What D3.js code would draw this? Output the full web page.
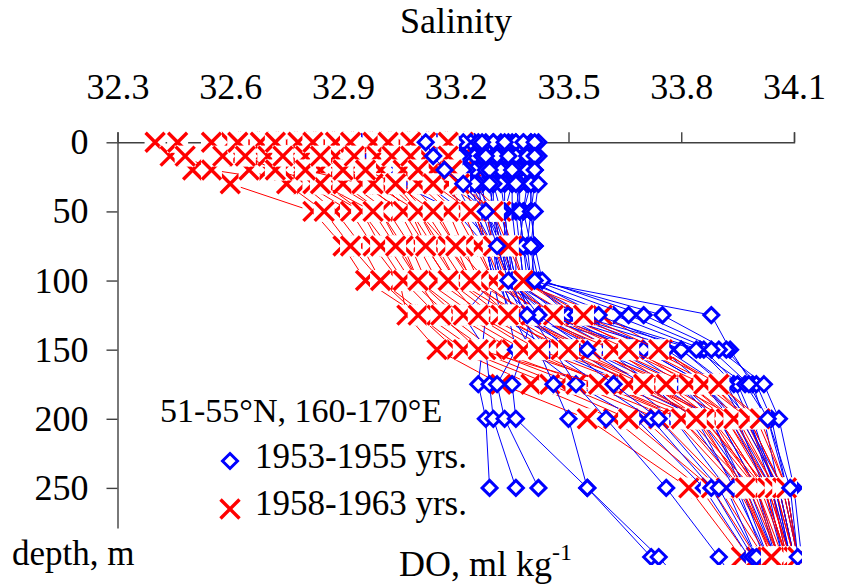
<!DOCTYPE html>
<html>
<head>
<meta charset="utf-8">
<script src="https://cdn.jsdelivr.net/npm/d3@7"></script>
</head>
<body style="margin:0; background:#fff">
<div id="chart"></div>
<script>
// standard depths of the casts, m
var depths = [0, 10, 20, 30, 50, 75, 100, 125, 150, 175, 200, 250, 300, 325];
var salinityTicks = [32.3, 32.6, 32.9, 33.2, 33.5, 33.8, 34.1];
var depthTicks = [0, 50, 100, 150, 200, 250];

// 1953-1955 stations, salinity at each standard depth
var series1953 = [
  [33.40,33.40,33.40,33.40,33.38,33.37,33.38,33.55,33.85,33.94,33.98,34.04,34.08,34.10],
  [33.42,33.42,33.41,33.40,33.40,33.39,33.40,33.88,33.93,33.99,34.02,34.06,34.10,34.12],
  [33.35,33.36,33.36,33.35,33.33,33.33,33.35,33.40,33.70,33.86,33.95,34.02,34.07,34.09],
  [33.30,33.30,33.31,33.30,33.30,33.32,33.34,33.45,33.62,33.80,33.90,34.00,34.05,34.08],
  [33.25,33.26,33.26,33.27,33.28,33.30,33.32,33.36,33.45,33.66,33.85,33.98,34.05,34.08],
  [33.22,33.22,33.23,33.24,33.26,33.28,33.30,33.28,33.27,33.26,33.28,33.29,null,33.36],
  [33.18,33.19,33.20,33.22,33.25,33.28,33.30,33.22,33.28,33.29,33.30,33.36,null,33.52],
  [33.30,33.30,33.30,33.30,33.29,33.30,33.32,33.34,33.36,33.31,33.33,33.42,null,33.66],
  [33.34,33.34,33.34,33.35,33.35,33.36,33.36,33.40,33.38,33.35,33.36,33.55,33.72,33.80],
  [33.10,33.12,33.15,33.20,33.28,33.33,33.35,33.42,33.60,33.72,33.82,33.95,34.02,34.05],
  [33.05,33.06,33.10,33.15,33.25,33.30,33.33,33.38,33.55,33.74,33.88,33.97,34.05,34.08],
  [32.95,32.98,33.02,33.12,33.22,33.30,33.32,33.36,33.52,33.66,33.78,33.92,34.00,34.04],
  [33.38,33.38,33.39,33.39,33.38,33.40,33.42,33.75,33.92,34.00,34.04,34.08,34.11,34.12],
  [33.36,33.36,33.37,33.37,33.36,33.37,33.38,33.62,33.86,33.95,33.99,34.05,34.09,34.11],
  [33.28,33.28,33.28,33.29,33.30,33.31,33.34,33.50,33.75,33.86,33.93,34.03,34.07,34.10],
  [33.32,33.33,33.33,33.33,33.33,33.34,33.36,33.48,33.66,33.80,33.88,33.96,34.03,34.07],
  [33.24,33.25,33.25,33.26,33.27,33.30,33.31,33.35,33.40,33.52,33.68,33.86,33.98,34.03],
  [32.78,32.85,32.95,33.05,33.20,33.28,33.31,33.40,33.58,33.78,33.90,34.00,34.06,34.09],
  [33.15,33.16,33.18,33.20,33.24,33.28,33.30,33.32,33.45,33.58,33.72,33.88,33.99,34.04],
  [33.40,33.40,33.41,33.41,33.40,33.41,33.40,33.50,33.80,33.91,33.96,34.06,34.10,34.12],
  [33.30,33.31,33.32,33.32,33.33,33.34,33.35,33.38,33.42,33.46,33.50,33.55,33.74,33.82],
  [33.26,33.27,33.28,33.30,33.32,33.34,33.36,33.40,33.46,33.52,33.60,33.76,33.90,33.96],
  [33.36,33.36,33.36,33.37,33.37,33.38,33.40,33.58,33.80,33.92,33.97,34.07,34.11,34.13],
  [33.22,33.22,33.23,33.24,33.28,33.32,33.34,33.44,33.70,33.86,33.94,34.04,34.09,34.11],
  [33.20,33.21,33.22,33.25,33.30,33.33,33.35,33.46,33.76,33.90,33.98,34.05,34.09,34.11],
  [33.33,33.34,33.35,33.36,33.37,33.38,33.39,33.52,33.84,33.97,34.03,34.08,34.11,34.12],
  [33.38,33.39,33.39,33.40,33.40,33.41,33.43,33.70,33.90,34.02,34.06,34.10,34.12,34.13],
  [33.27,33.28,33.29,33.29,33.30,33.32,33.35,33.42,33.55,33.70,33.84,33.94,34.03,34.08],
  [33.12,33.14,33.17,33.22,33.28,33.31,33.34,33.39,33.50,33.62,33.74,33.90,34.00,34.06],
  [33.41,33.41,33.41,33.42,33.41,33.40,33.41,33.66,33.88,33.98,34.03,34.09,34.11,34.12]
];

// 1958-1963 stations
var series1958 = [
  [32.40,32.44,32.50,32.60,32.82,32.90,32.96,33.10,33.20,33.40,33.62,33.85,33.98,34.04],
  [32.46,32.48,32.55,32.79,32.88,32.95,33.00,33.12,33.25,33.48,33.70,33.90,34.02,34.07],
  [32.60,32.62,32.70,32.80,32.92,32.98,33.05,33.07,33.15,33.32,33.55,33.82,33.96,34.03],
  [32.65,32.68,32.75,32.85,32.95,33.02,33.08,33.18,33.30,33.55,33.78,33.95,34.05,34.09],
  [32.70,32.72,32.78,32.88,33.00,33.05,33.10,33.20,33.35,33.62,33.85,34.00,34.07,34.10],
  [32.75,32.76,32.82,32.92,33.02,33.08,33.12,33.25,33.40,33.60,33.80,33.98,34.06,34.09],
  [32.80,32.82,32.88,32.96,33.05,33.10,33.15,33.28,33.45,33.70,33.90,34.02,34.08,34.11],
  [32.85,32.86,32.90,33.00,33.08,33.12,33.18,33.30,33.50,33.72,33.88,34.03,34.09,34.12],
  [32.90,32.92,32.95,33.02,33.10,33.15,33.20,33.35,33.55,33.78,33.95,34.05,34.10,34.12],
  [32.95,32.95,32.98,33.05,33.12,33.18,33.25,33.40,33.60,33.80,33.92,34.04,34.08,34.11],
  [33.00,33.00,33.02,33.08,33.15,33.20,33.28,33.45,33.65,33.84,33.96,34.06,34.10,34.12],
  [33.05,33.05,33.08,33.12,33.20,33.25,33.30,33.48,33.70,33.88,33.98,34.07,34.11,34.13],
  [33.10,33.10,33.12,33.15,33.25,33.28,33.32,33.42,33.58,33.72,33.85,33.96,34.05,34.09],
  [33.15,33.15,33.16,33.18,33.28,33.30,33.35,33.50,33.68,33.82,33.93,34.04,34.09,34.12],
  [33.20,33.20,33.20,33.22,33.30,33.32,33.36,33.59,33.75,33.88,33.97,34.06,34.10,34.12],
  [33.22,33.22,33.22,33.24,33.32,33.35,33.38,33.52,33.72,33.90,34.00,34.08,34.11,34.13],
  [32.55,32.58,32.65,32.75,32.85,32.92,33.00,33.10,33.22,33.45,33.66,33.88,34.00,34.05],
  [32.68,32.70,32.74,32.82,32.95,33.00,33.06,33.15,33.28,33.52,33.74,33.92,34.03,34.07],
  [32.78,32.80,32.84,32.90,33.00,33.06,33.10,33.22,33.38,33.60,33.82,33.99,34.06,34.10],
  [32.98,32.99,33.00,33.04,33.10,33.16,33.22,33.38,33.52,33.72,33.90,34.02,34.08,34.11],
  [33.12,33.12,33.14,33.18,33.22,33.26,33.30,33.44,33.62,33.76,33.88,34.00,34.06,34.10],
  [32.88,32.88,32.92,33.00,33.08,33.14,33.20,33.32,33.48,33.68,33.86,34.01,34.08,34.11],
  [32.62,32.64,32.72,32.84,32.98,33.04,33.10,33.16,33.26,33.58,33.80,33.96,34.04,34.08],
  [32.72,32.74,32.80,32.95,33.06,33.12,33.18,33.26,33.42,33.66,33.86,34.02,34.08,34.11],
  [32.82,32.84,32.90,32.98,33.10,33.18,33.24,33.36,33.56,33.76,33.92,34.03,34.09,34.12],
  [33.02,33.03,33.06,33.10,33.18,33.22,33.26,33.40,33.62,33.82,33.94,34.05,34.10,34.12],
  [33.08,33.08,33.10,33.14,33.24,33.30,33.34,33.46,33.66,33.86,33.98,34.07,34.11,34.13],
  [33.18,33.18,33.19,33.21,33.30,33.34,33.38,33.54,33.74,33.90,34.01,34.08,34.11,34.13],
  [32.92,32.93,32.96,33.04,33.14,33.20,33.24,33.34,33.50,33.70,33.84,33.97,34.04,34.08]
];

var legendTitle = "51-55°N, 160-170°E";
var seriesNames = ["1953-1955 yrs.", "1958-1963 yrs."];
var seriesColors = ["#0000ff", "#ff0000"];
var serif = "'Liberation Serif', 'Times New Roman', serif";

var width = 860, height = 588;

var svg = d3.select("#chart")
            .append("svg")
            .attr("width", width)
            .attr("height", height)
            .style("font-family", serif);

var x = d3.scaleLinear().domain([32.3, 34.1]).range([117.5, 794]);
var y = d3.scaleLinear().domain([0, 279]).range([142.3, 528]);

// axes
var xAxis = svg.append("g")
      .attr("transform", "translate(0," + y(0) + ")")
      .call(d3.axisTop(x).tickValues(salinityTicks).tickSize(10).tickPadding(33)
              .tickFormat(d3.format(".1f")));
var yAxis = svg.append("g")
      .attr("transform", "translate(" + x(32.3) + ",0)")
      .call(d3.axisLeft(y).tickValues(depthTicks).tickSize(11).tickSizeOuter(0).tickPadding(18));

[xAxis, yAxis].forEach(function(a){
  a.attr("font-size", 36);
  a.selectAll("text").style("font-family", serif).attr("fill", "#000");
  a.selectAll("path, line").attr("stroke", "#404040").attr("stroke-width", 1.4);
});

svg.append("text").attr("x", 456).attr("y", 33).attr("text-anchor", "middle")
   .attr("font-size", 36).style("font-family", serif).text("Salinity");

svg.append("defs").append("clipPath").attr("id", "plotClip")
   .append("rect").attr("x", 0).attr("y", 0).attr("width", 802).attr("height", 565);

// interleave the two periods so they overlap like the original
var profiles = [];
for (var i = 0; i < Math.max(series1953.length, series1958.length); i++) {
  if (series1953[i]) profiles.push({group: 0, values: series1953[i]});
  if (series1958[i]) profiles.push({group: 1, values: series1958[i]});
}

var line = d3.line()
    .defined(function(d){ return d != null; })
    .x(function(d){ return x(d); })
    .y(function(d, i){ return y(depths[i]); });

function drawMarker(g, group) {
  if (group == 0) {
    g.append("path").attr("d", "M0,-7.5L7.5,0L0,7.5L-7.5,0Z")
     .attr("fill", "#fff").attr("stroke", seriesColors[0]).attr("stroke-width", 3);
  } else {
    g.append("rect").attr("x", -10.5).attr("y", -10.5).attr("width", 21).attr("height", 21)
     .attr("fill", "#fff");
    g.append("path").attr("d", "M-9.5,-9.5L9.5,9.5M-9.5,9.5L9.5,-9.5")
     .attr("fill", "none").attr("stroke", seriesColors[1]).attr("stroke-width", 3.4);
  }
}

var plot = svg.append("g").attr("clip-path", "url(#plotClip)");

var prof = plot.selectAll("g.profile")
    .data(profiles)
    .join("g")
    .attr("class", "profile");

prof.append("path")
    .attr("d", function(d){ return line(d.values); })
    .attr("fill", "none")
    .attr("stroke", function(d){ return seriesColors[d.group]; })
    .attr("stroke-width", 1);

prof.each(function(p){
  var g = d3.select(this);
  p.values.forEach(function(s, i){
    if (s == null || depths[i] > 300) return;
    var m = g.append("g").attr("transform", "translate(" + x(s) + "," + y(depths[i]) + ")");
    drawMarker(m, p.group);
  });
});

// legend
svg.append("text").attr("x", 160).attr("y", 422).attr("font-size", 34)
   .style("font-family", serif).text(legendTitle);

var legend = svg.append("g");
seriesNames.forEach(function(name, i){
  var m = legend.append("g").attr("transform", "translate(230," + (461 + i * 48) + ")");
  drawMarker(m, i);
  legend.append("text").attr("x", 255).attr("y", 468 + i * 47).attr("font-size", 35)
        .style("font-family", serif).text(name);
});

svg.append("text").attr("x", 12).attr("y", 565).attr("font-size", 35)
   .style("font-family", serif).text("depth, m");

var doLabel = svg.append("text").attr("x", 399).attr("y", 576).attr("font-size", 36)
   .style("font-family", serif);
doLabel.append("tspan").text("DO, ml kg");
doLabel.append("tspan").attr("dy", -16).attr("font-size", 24).text("-1");
</script>
</body>
</html>
